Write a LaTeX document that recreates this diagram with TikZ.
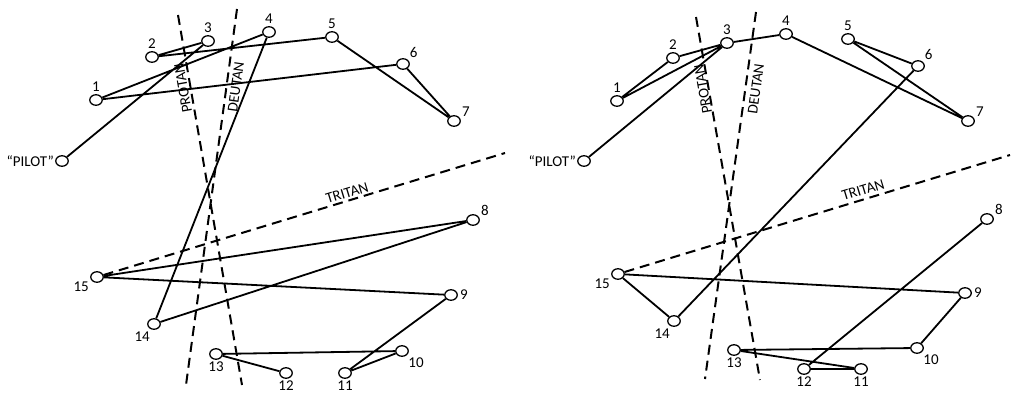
\documentclass[tikz,border=0pt]{standalone}
\usepackage{fontspec}
\setmainfont{Carlito}
\usetikzlibrary{shapes.geometric}

\begin{document}
\begin{tikzpicture}[x=1pt, y=-1pt,
    capdot/.style={ellipse, draw, fill=white, line width=1.3pt,
        minimum width=12.5pt, minimum height=10.5pt, inner sep=0pt},
    num/.style={font=\fontsize{15}{17}\selectfont, inner sep=1pt},
    every label/.style={num}, label distance=1pt,
    link/.style={line width=1.8pt},
    axis/.style={line width=2pt, dash pattern=on 10pt off 6pt}]
    \useasboundingbox (0,0) rectangle (1011,396);

    % Left panel: caps
    \foreach \n/\x/\y/\a in {1/96/100/90, 2/152/57/90, 3/208/41/90, 4/269/32/90,
        5/332/37/90, 6/403/64/40, 7/454/121/27, 8/473/220/25, 9/451/295/0,
        10/402/351/-45, 11/345/373/-90, 12/286/373/-90, 13/216/354/-90,
        14/154/324/-115, 15/97/277/-155} {
        \node[capdot, label={\a:\n}] (L\n) at (\x,\y) {};
    }
    \node[capdot, label={[label distance=0pt]180:``PILOT''}] (LP) at (62,161) {};
    % order in which the caps were placed
    \draw[link] (LP) -- (L3) -- (L2) -- (L5) -- (L7) -- (L6) -- (L1) -- (L4) -- (L14)
        -- (L8) -- (L15) -- (L9) -- (L11) -- (L10) -- (L13) -- (L12);
    % confusion axes
    \coordinate (lprotT) at (178,15);
    \coordinate (lprotB) at (242,385);
    \coordinate (ldeutT) at (237,9);
    \coordinate (ldeutB) at (186,385);
    \coordinate (ltritE) at (505,153);
    \draw[axis] (lprotT) -- (lprotB);
    \draw[axis] (ldeutT) -- (ldeutB);
    \draw[axis] (L15) -- (ltritE);
    \node[num, rotate=100] (lprot) at (183,88) {PROTAN};
    \node[num, rotate=82] (ldeut) at (236,87) {DEUTAN};
    \node[num, rotate=17] (ltrit) at (347,193) {TRITAN};

    % Right panel: caps
    \foreach \n/\x/\y/\a in {1/617/101/90, 2/673/58/90, 3/727/43/90, 4/786/34/90,
        5/848/39/90, 6/918/66/40, 7/968/121/27, 8/987/219/25, 9/965/293/0,
        10/917/348/-45, 11/861/369/-90, 12/804/369/-90, 13/734/350/-90,
        14/674/321/-115, 15/618/274/-155} {
        \node[capdot, label={\a:\n}] (R\n) at (\x,\y) {};
    }
    \node[capdot, label={[label distance=0pt]180:``PILOT''}] (RP) at (584,161) {};
    \draw[link] (RP) -- (R3) -- (R1) -- (R2) -- (R3) -- (R4) -- (R7) -- (R5) -- (R6)
        -- (R14) -- (R15) -- (R9) -- (R10) -- (R13) -- (R11) -- (R12) -- (R8);
    \coordinate (rprotT) at (696,17);
    \coordinate (rprotB) at (760,380);
    \coordinate (rdeutT) at (756,12);
    \coordinate (rdeutB) at (705,379);
    \coordinate (rtritE) at (1010,155);
    \draw[axis] (rprotT) -- (rprotB);
    \draw[axis] (rdeutT) -- (rdeutB);
    \draw[axis] (R15) -- (rtritE);
    \node[num, rotate=100] (rprot) at (703,89) {PROTAN};
    \node[num, rotate=82] (rdeut) at (756,89) {DEUTAN};
    \node[num, rotate=17] (rtrit) at (863,190) {TRITAN};
\end{tikzpicture}
\end{document}
